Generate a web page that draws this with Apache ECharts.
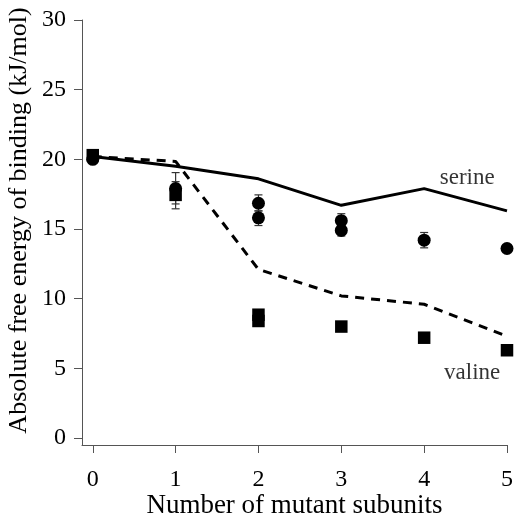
<!DOCTYPE html>
<html><head><meta charset="utf-8">
<script src="https://cdn.jsdelivr.net/npm/echarts@6/dist/echarts.min.js"></script>
<style>html,body{margin:0;padding:0;background:#fff}#c{width:514px;height:513px}</style>
</head><body><div id="c"></div>
<script>
// ---- data ----
var xTicks = [0, 1, 2, 3, 4, 5];
var yTicks = [0, 5, 10, 15, 20, 25, 30];
var lineX = [0, 1, 2, 3, 4, 5];
var serineLine = [20.2, 19.5, 18.6, 16.7, 17.9, 16.3];
var valineLine = [20.2, 19.85, 12.1, 10.2, 9.6, 7.3];
// measured points: [x, y]
var serinePts = [[0, 20.0], [1, 17.9], [2, 16.85], [2, 15.8], [3, 15.6], [3, 14.9], [4, 14.2], [5, 13.6]];
var valinePts = [[0, 20.3], [1, 17.45], [2, 8.85], [2, 8.4], [3, 8.0], [4, 7.2], [5, 6.3]];
// error bars: [x, low, high]
var errBars = [[1, 16.8, 19.05], [1, 16.45, 18.4], [2, 16.3, 17.45], [2, 15.25, 16.3], [3, 15.2, 16.1], [3, 14.5, 15.2], [4, 13.65, 14.75]];
var labelSerine = [4.52, 18.7];
var labelValine = [4.58, 4.65];

var font = 'Liberation Serif';
function pairs(xs, ys) { return xs.map(function (x, i) { return [x, ys[i]]; }); }
function textSeries(pt, txt) {
  return {
    type: 'scatter', data: [pt], symbol: 'circle', symbolSize: 1,
    itemStyle: { color: 'rgba(0,0,0,0)' }, silent: true, z: 5,
    label: { show: true, position: 'inside', formatter: txt, fontFamily: font, fontSize: 23, color: '#000' }
  };
}

var chart = echarts.init(document.getElementById('c'), null, { renderer: 'canvas' });
chart.setOption({
  animation: false,
  backgroundColor: '#fff',
  grid: { left: 82, right: 7, top: 20, bottom: 68, containLabel: false, outerBoundsMode: 'none' },
  xAxis: {
    type: 'value', min: -0.13, max: 5,
    name: 'Number of mutant subunits', nameLocation: 'middle', nameGap: 47, nameMoveOverlap: false,
    nameTextStyle: { fontFamily: font, fontSize: 27, color: '#000' },
    axisLine: { show: true, onZero: false, lineStyle: { color: '#555', width: 1 } },
    axisTick: { show: true, length: 8, customValues: xTicks, lineStyle: { color: '#555' } },
    axisLabel: { customValues: xTicks, margin: 23, fontFamily: font, fontSize: 24, color: '#000' },
    splitLine: { show: false }
  },
  yAxis: {
    type: 'value', min: -0.5, max: 30,
    name: 'Absolute free energy of binding (kJ/mol)', nameLocation: 'middle', nameGap: 50, nameMoveOverlap: false,
    nameTextStyle: { fontFamily: font, fontSize: 26, color: '#000', padding: [0, 0, 0, 24] },
    axisLine: { show: true, onZero: false, lineStyle: { color: '#555', width: 1 } },
    axisTick: { show: true, length: 8, customValues: yTicks, lineStyle: { color: '#555' } },
    axisLabel: { customValues: yTicks, margin: 16, fontFamily: font, fontSize: 24, color: '#000' },
    splitLine: { show: false }
  },
  series: [
    {
      type: 'custom', renderItem: function (params, api) {
        var x = api.value(0), lo = api.value(1), hi = api.value(2);
        var p1 = api.coord([x, lo]), p2 = api.coord([x, hi]);
        var s = { stroke: '#333', lineWidth: 1.2 };
        return { type: 'group', children: [
          { type: 'line', shape: { x1: p1[0], y1: p1[1], x2: p2[0], y2: p2[1] }, style: s },
          { type: 'line', shape: { x1: p1[0] - 4, y1: p1[1], x2: p1[0] + 4, y2: p1[1] }, style: s },
          { type: 'line', shape: { x1: p2[0] - 4, y1: p2[1], x2: p2[0] + 4, y2: p2[1] }, style: s }
        ]};
      }, data: errBars, z: 1
    },
    {
      type: 'line', data: pairs(lineX, serineLine), showSymbol: false, symbol: 'none',
      lineStyle: { color: '#000', width: 3 }, z: 3
    },
    {
      type: 'line', data: pairs(lineX, valineLine), showSymbol: false, symbol: 'none',
      lineStyle: { color: '#000', width: 3, type: [9, 7] }, z: 3
    },
    {
      type: 'scatter', data: valinePts, symbol: 'rect', symbolSize: 12.5,
      itemStyle: { color: '#000', opacity: 1 }, z: 4
    },
    {
      type: 'scatter', data: serinePts, symbol: 'circle', symbolSize: 13,
      itemStyle: { color: '#000', opacity: 1 }, z: 4
    },
    textSeries(labelSerine, 'serine'),
    textSeries(labelValine, 'valine')
  ]
});
</script></body></html>
